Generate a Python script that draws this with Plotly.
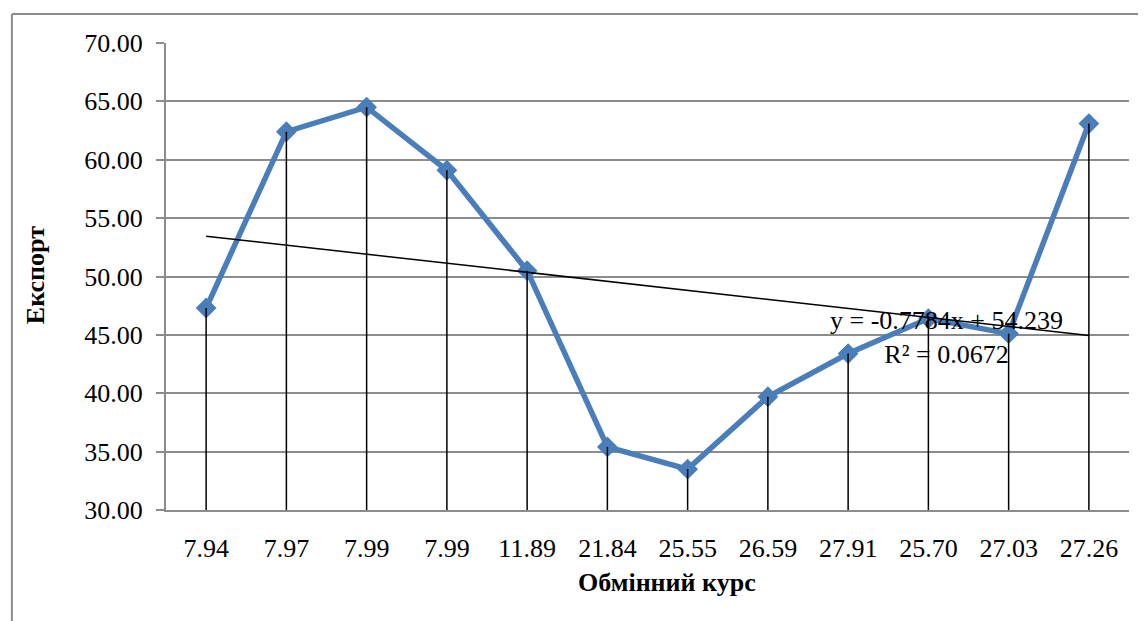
import numpy as np
import plotly.graph_objects as go

# Data
categories = ["7.94", "7.97", "7.99", "7.99", "11.89", "21.84", "25.55", "26.59", "27.91", "25.70", "27.03", "27.26"]
export_values = [47.3, 62.4, 64.5, 59.1, 50.5, 35.4, 33.5, 39.7, 43.4, 46.4, 45.1, 63.1]
y_ticks = [30, 35, 40, 45, 50, 55, 60, 65, 70]
trend_label = "y = -0.7784x + 54.239<br>R² = 0.0672"
x_title = "Обмінний курс"
y_title = "Експорт"

x_pos = list(range(1, len(categories) + 1))
y_base = 30

# linear trend on category index
slope, intercept = np.polyfit(x_pos, export_values, 1)
trend_y = [slope * x + intercept for x in x_pos]

# drop lines
drop_x, drop_y = [], []
for x, v in zip(x_pos, export_values):
    drop_x += [x, x, None]
    drop_y += [y_base, v, None]

blue = "#4a7ebb"
grid = "#8c8c8c"
font_family = "Liberation Serif, Times New Roman, serif"
fs = 26

fig = go.Figure()
fig.add_trace(go.Scatter(
    x=x_pos, y=export_values, mode="lines+markers",
    line=dict(color=blue, width=5.5, shape="linear"),
    marker=dict(symbol="diamond", size=16, color=blue),
    showlegend=False, hoverinfo="skip"))
fig.add_trace(go.Scatter(
    x=[x_pos[0], x_pos[-1]], y=[trend_y[0], trend_y[-1]], mode="lines",
    line=dict(color="black", width=1.5), showlegend=False, hoverinfo="skip"))
fig.add_trace(go.Scatter(
    x=drop_x, y=drop_y, mode="lines",
    line=dict(color="black", width=1.5), showlegend=False, hoverinfo="skip"))

fig.add_annotation(x=10.22, y=44.8, xref="x", yref="y", text=trend_label,
                   showarrow=False, align="center",
                   font=dict(family=font_family, size=fs, color="black"))

# axis titles
fig.add_annotation(x=0.520, y=-0.156, xref="paper", yref="paper", text=f"<b>{x_title}</b>",
                   showarrow=False, xanchor="center", yanchor="middle",
                   font=dict(family=font_family, size=fs, color="black"))
fig.add_annotation(x=-0.136, y=0.503, xref="paper", yref="paper", text=f"<b>{y_title}</b>",
                   showarrow=False, xanchor="center", yanchor="middle", textangle=-90,
                   font=dict(family=font_family, size=fs, color="black"))

# outer chart border (top and left)
fig.add_shape(type="line", xref="paper", yref="paper", x0=-0.16, x1=1.03, y0=1.062, y1=1.062,
              line=dict(color=grid, width=2))
fig.add_shape(type="line", xref="paper", yref="paper", x0=-0.16, x1=-0.16, y0=1.062, y1=-0.3,
              line=dict(color=grid, width=2))

fig.update_layout(
    width=1138, height=613,
    margin=dict(l=158, r=17, t=35, b=111),
    paper_bgcolor="white", plot_bgcolor="white",
    font=dict(family=font_family, size=fs, color="black"),
)
fig.update_xaxes(
    range=[0.5, len(categories) + 0.5],
    tickmode="array", tickvals=x_pos, ticktext=categories,
    showgrid=False, zeroline=False,
    showline=True, linecolor=grid, linewidth=2,
    ticks="", ticklabelstandoff=14,
)
fig.update_yaxes(
    range=[30, 70], tickmode="array", tickvals=y_ticks,
    ticktext=[f"{v:.2f}" for v in y_ticks],
    showgrid=True, gridcolor=grid, gridwidth=2, zeroline=False,
    showline=True, linecolor=grid, linewidth=2,
    ticks="outside", ticklen=8, tickcolor=grid, tickwidth=2,
    ticklabelstandoff=8,
)

fig.write_html("out.html")
